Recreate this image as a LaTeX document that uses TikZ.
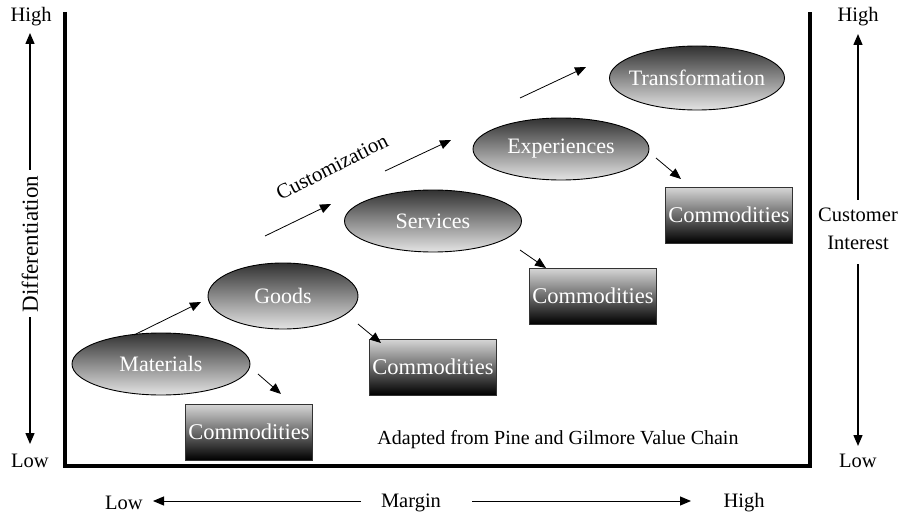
\documentclass[tikz,border=0pt]{standalone}
\usepackage{fontspec}
\setmainfont{Liberation Serif}
\usetikzlibrary{arrows.meta,shapes.geometric}
\definecolor{stagetop}{RGB}{50,50,50}
\definecolor{stagebot}{RGB}{228,228,228}
\definecolor{boxtop}{RGB}{215,215,215}
\definecolor{boxbot}{RGB}{0,0,0}
\begin{document}
\begin{tikzpicture}[x=1pt,y=-1pt,
  stage/.style={ellipse, draw=black, line width=0.9pt, inner sep=0pt,
    top color=stagetop, bottom color=stagebot},
  stagetext/.style={text=white, font=\fontsize{22}{24}\selectfont, inner sep=0pt},
  commodity/.style={rectangle, draw=black!80, line width=0.9pt, inner sep=0pt,
    minimum width=127pt, minimum height=56pt,
    top color=boxtop, bottom color=boxbot, text=white,
    font=\fontsize{22.5}{24}\selectfont},
  flow/.style={-{Triangle[length=11pt,width=9pt]}, line width=0.8pt},
  axis/.style={-{Triangle[length=11pt,width=9pt]}, line width=1.4pt},
  margaxis/.style={-{Triangle[length=11pt,width=9pt]}, line width=1pt},
  axislabel/.style={font=\fontsize{20.5}{22}\selectfont, inner sep=0pt},
  frame/.style={line width=4pt, line join=miter}
]
\useasboundingbox (0,0) rectangle (908,527);

% outer frame
\draw[frame] (65,12) -- (65,466) -- (810,466) -- (810,12);

% stages of the value chain
\node[stage, minimum width=178pt, minimum height=62pt] (mat) at (161,364) {};
\node[stagetext] (matT) at (mat) {Materials};
\node[stage, minimum width=150pt, minimum height=66pt] (goods) at (283,296) {};
\node[stagetext] (goodsT) at (goods) {Goods};
\node[stage, minimum width=177pt, minimum height=62pt] (serv) at (433,221) {};
\node[stagetext] (servT) at (serv) {Services};
\node[stage, minimum width=176pt, minimum height=62pt] (exp) at (561,149) {};
\node[stagetext] (expT) at (exp) {Experiences};
\node[stage, minimum width=175pt, minimum height=64pt] (trans) at (697,78) {};
\node[stagetext] (transT) at (trans) {Transformation};

% commodity boxes
\node[commodity] (c1) at (249,432) {Commodities};
\node[commodity] (c2) at (433,367) {Commodities};
\node[commodity] (c3) at (593,296) {Commodities};
\node[commodity] (c4) at (729,215) {Commodities};

% arrow end points
\coordinate (m1) at (258,374); \coordinate (m2) at (281,394);
\coordinate (g1) at (358,324); \coordinate (g2) at (381,343);
\coordinate (s1) at (520,250); \coordinate (s2) at (546,268);
\coordinate (e1) at (656,158); \coordinate (e2) at (681,179);
\coordinate (u1a) at (134,335); \coordinate (u1b) at (201,302);
\coordinate (u2a) at (265,236); \coordinate (u2b) at (331,204);
\coordinate (u3a) at (385,171); \coordinate (u3b) at (451,140);
\coordinate (u4a) at (520,98);  \coordinate (u4b) at (586,67);

% commoditization arrows
\draw[flow] (m1) -- (m2);
\draw[flow] (g1) -- (g2);
\draw[flow] (s1) -- (s2);
\draw[flow] (e1) -- (e2);

% customization arrows
\draw[flow] (u1a) -- (u1b);
\draw[flow] (u2a) -- (u2b);
\draw[flow] (u3a) -- (u3b);
\draw[flow] (u4a) -- (u4b);
\node[inner sep=0pt, font=\fontsize{21}{22}\selectfont, rotate=27] (cust) at (332,167) {Customization};

\node[axislabel, font=\fontsize{20}{22}\selectfont] (src) at (558,440) {Adapted from Pine and Gilmore Value Chain};

% left axis: differentiation
\node[axislabel] (lhigh) at (31,17) {High};
\node[axislabel] (llow) at (30,461) {Low};
\node[axislabel, font=\fontsize{23}{24}\selectfont, rotate=90] (diff) at (30,244) {Differentiation};
\coordinate (ltop) at (30,33);
\coordinate (lbot) at (30,444);
\draw[axis] ([yshift=6pt]diff.east) -- (ltop);
\draw[axis] ([yshift=-5pt]diff.west) -- (lbot);

% right axis: customer interest
\node[axislabel] (rhigh) at (858,17) {High};
\node[axislabel] (rlow) at (858,461) {Low};
\node[axislabel, align=center, font=\fontsize{20.5}{28}\selectfont] (ci) at (858,229) {Customer\\Interest};
\coordinate (rtop) at (858,34);
\coordinate (rbot) at (858,446);
\draw[axis] ([yshift=8pt]ci.north) -- (rtop);
\draw[axis] ([yshift=-14pt]ci.south) -- (rbot);

% bottom axis: margin
\node[axislabel] (blow) at (124,503) {Low};
\node[axislabel] (margin) at (411,503) {Margin};
\node[axislabel] (bhigh) at (744,503) {High};
\coordinate (bl1) at (361,501); \coordinate (bl2) at (153,501);
\coordinate (br1) at (472,501); \coordinate (br2) at (691,501);
\draw[margaxis] (bl1) -- (bl2);
\draw[margaxis] (br1) -- (br2);
\end{tikzpicture}
\end{document}
